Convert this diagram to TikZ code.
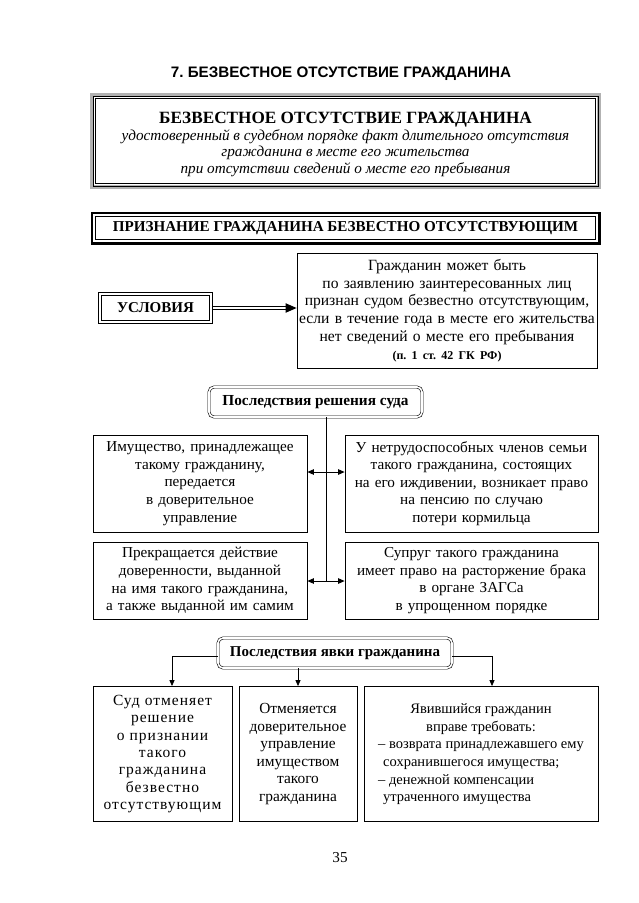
\documentclass[tikz,border=0pt]{standalone}
\usepackage{fontspec}
\setmainfont{Liberation Serif}
\newfontfamily\headsans{Liberation Sans}
\newfontfamily\spacedserif[LetterSpace=6.5]{Liberation Serif}
\usetikzlibrary{arrows.meta,calc}
\tikzset{
  txt/.style={font=\fontsize{15.2}{17.6}\selectfont, align=center, inner sep=0pt},
  plainbox/.style={txt, draw=black, line width=0.8pt},
  rndbox/.style={txt, draw=black, double, double distance=1.6pt, line width=0.6pt, rounded corners=5pt},
  thinline/.style={draw=black, line width=0.7pt},
  tip/.style={-{Triangle[length=6pt,width=5pt]}, line width=0.8pt},
  tiptwo/.style={{Triangle[length=6.5pt,width=5.5pt]}-{Triangle[length=6.5pt,width=5.5pt]}, line width=0.8pt},
  conn/.style={line width=0.8pt}
}
\begin{document}
\frenchspacing
\begin{tikzpicture}[x=1pt,y=-1pt]
\useasboundingbox[fill=white] (0,0) rectangle (638,903);

% heading
\node[inner sep=0pt, font=\headsans\bfseries\fontsize{15.2}{18}\selectfont] (head) at (341,73.5) {7. БЕЗВЕСТНОЕ ОТСУТСТВИЕ ГРАЖДАНИНА};

% box 1
\node[inner sep=0pt, minimum width=507pt, minimum height=92pt] (def) at (345.5,141) {};
\draw[gray!60, line width=3.5pt] (def.north west) rectangle (def.south east);
\draw[black, line width=1pt] ([shift={(1.2,1.2)}]def.north west) rectangle ([shift={(-1.2,-1.2)}]def.south east);
\draw[black, line width=0.8pt] ([shift={(4,4)}]def.north west) rectangle ([shift={(-4,-4)}]def.south east);
\node[txt, font=\fontsize{15.2}{16.5}\selectfont] (deftext) at ([yshift=-3pt]def.center)
 {{\bfseries\fontsize{17.2}{19}\selectfont БЕЗВЕСТНОЕ ОТСУТСТВИЕ ГРАЖДАНИНА}\\[0.5pt]
  \itshape удостоверенный в судебном порядке факт длительного отсутствия\\
  \itshape гражданина в месте его жительства\\
  \itshape при отсутствии сведений о месте его пребывания};

% box 2
\node[txt, font=\bfseries\fontsize{15.1}{17}\selectfont, minimum width=507pt, minimum height=30pt] (rec) at (345.5,228)
 {ПРИЗНАНИЕ ГРАЖДАНИНА БЕЗВЕСТНО ОТСУТСТВУЮЩИМ};
\draw[black, line width=2.6pt] (rec.north west) rectangle (rec.south east);
\draw[black, line width=0.8pt] ([shift={(3.8,3.8)}]rec.north west) rectangle ([shift={(-3.8,-3.8)}]rec.south east);

% conditions
\node[plainbox, font=\fontsize{15.6}{17.7}\selectfont, minimum width=300pt, minimum height=115pt, text width=299pt] (cond) at (447,310.5)
 {Гражданин может быть\\
  по заявлению заинтересованных лиц\\
  признан судом безвестно отсутствующим,\\
  если в течение года в месте его жительства\\
  нет сведений о месте его пребывания\\
  {\bfseries\fontsize{12}{15}\selectfont (п. 1 ст. 42 ГК РФ)}};
\node[txt, font=\bfseries\fontsize{15}{17}\selectfont, minimum width=113pt, minimum height=30pt] (usl) at (155.5,308) {УСЛОВИЯ};
\draw[thinline] (usl.north west) rectangle (usl.south east);
\draw[thinline] ([shift={(2.6,2.6)}]usl.north west) rectangle ([shift={(-2.6,-2.6)}]usl.south east);
\coordinate (tipend) at (cond.west |- usl.east);
\draw[thinline] ([shift={(0,-1.7)}]usl.east) -- ([shift={(-9,-1.7)}]tipend);
\draw[thinline] ([shift={(0,1.7)}]usl.east) -- ([shift={(-9,1.7)}]tipend);
\fill[black] (tipend) -- ([shift={(-11,-4.8)}]tipend) -- ([shift={(-11,4.8)}]tipend) -- cycle;

% court decision
\node[rndbox, font=\bfseries\fontsize{15.3}{17}\selectfont, minimum width=213pt, minimum height=30pt] (dec) at (315.5,402) {Последствия решения суда};
\node[plainbox, minimum width=214pt, minimum height=97pt, text width=210pt] (l1) at (200,483.5)
 {Имущество, принадлежащее\\такому гражданину,\\передается\\в доверительное\\управление};
\node[plainbox, minimum width=253pt, minimum height=97pt, text width=250pt] (r1) at (471.5,483.5)
 {У нетрудоспособных членов семьи\\такого гражданина, состоящих\\на его иждивении, возникает право\\на пенсию по случаю\\потери кормильца};
\node[plainbox, minimum width=214pt, minimum height=77pt, text width=210pt] (l2) at (200,580.5)
 {Прекращается действие\\доверенности, выданной\\на имя такого гражданина,\\а также выданной им самим};
\node[plainbox, minimum width=253pt, minimum height=77pt, text width=250pt] (r2) at (471.5,580.5)
 {Супруг такого гражданина\\имеет право на расторжение брака\\в органе ЗАГСа\\в упрощенном порядке};
\coordinate (j1) at (326,472);
\coordinate (j2) at (326,581);
\draw[conn] (dec.south -| j1) -- (j2);
\draw[tiptwo] (l1.east |- j1) -- (r1.west |- j1);
\draw[tiptwo] (l2.east |- j2) -- (r2.west |- j2);

% appearance
\node[rndbox, font=\bfseries\fontsize{15}{17}\selectfont, minimum width=234pt, minimum height=30pt] (app) at (335,653) {Последствия явки гражданина};
\node[plainbox, font=\spacedserif\fontsize{15.5}{17.4}\selectfont, minimum width=139pt, minimum height=135pt, text width=137pt] (ba) at (162.5,754)
 {Суд отменяет\\решение\\о признании\\такого\\гражданина\\безвестно\\отсутствующим};
\node[plainbox, font=\fontsize{15.4}{17.5}\selectfont, minimum width=118pt, minimum height=135pt, text width=116pt] (bb) at (298,754)
 {Отменяется\\доверительное\\управление\\имуществом\\такого\\гражданина};
\node[plainbox, font=\fontsize{14.5}{17.7}\selectfont, minimum width=234pt, minimum height=135pt] (bc) at (481,754)
 {\begin{tabular}{@{}l@{}}
  \multicolumn{1}{@{}c@{}}{Явившийся гражданин}\\
  \multicolumn{1}{@{}c@{}}{вправе требовать:}\\
  – возврата принадлежавшего ему\\
  \hspace*{5pt}сохранившегося имущества;\\
  – денежной компенсации\\
  \hspace*{5pt}утраченного имущества
  \end{tabular}};
\coordinate (ha) at (172,656);
\coordinate (hc) at (492,656);
\draw[tip] (app.west |- ha) -- (ha) -- (ha |- ba.north);
\draw[tip] (app.east |- hc) -- (hc) -- (hc |- bc.north);
\draw[tip] (app.south -| bb.north) -- (bb.north);

% page number
\node[txt] (page) at (340,858) {35};
\end{tikzpicture}
\end{document}
